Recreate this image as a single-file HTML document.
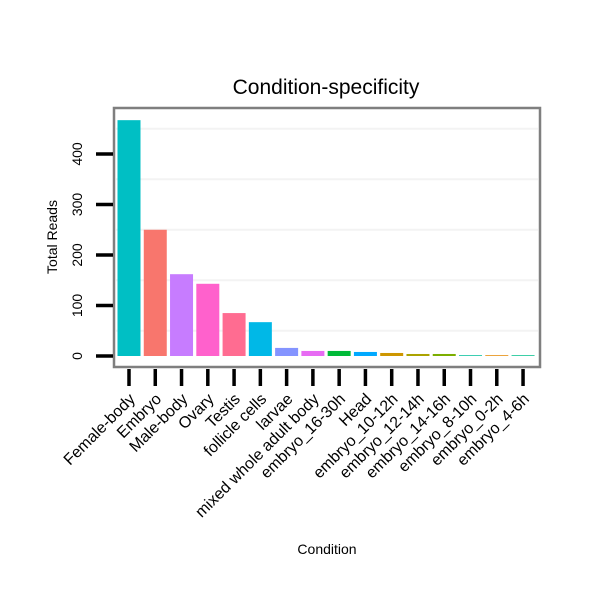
<!DOCTYPE html>
<html><head><meta charset="utf-8"><style>
body{margin:0;background:#fff;font-family:"Liberation Sans",sans-serif}
</style></head><body>
<svg width="600" height="600" xmlns="http://www.w3.org/2000/svg" font-family="Liberation Sans, sans-serif">
<rect width="600" height="600" fill="#fff"/>
<text x="326" y="94" font-size="21" text-anchor="middle">Condition-specificity</text>
<g id="grid"></g>
<g id="bars"></g>
<rect x="114" y="108" width="426" height="259" fill="none" stroke="#7f7f7f" stroke-width="2.5"/>
<g id="yax"></g>
<g id="xax"></g>
<text x="327" y="554" font-size="14" text-anchor="middle">Condition</text>
<text transform="translate(57,237) rotate(-90)" font-size="14" text-anchor="middle">Total Reads</text>
</svg>
<script>
const categories=["Female-body","Embryo","Male-body","Ovary","Testis","follicle cells","larvae","mixed whole adult body","embryo_16-30h","Head","embryo_10-12h","embryo_12-14h","embryo_14-16h","embryo_8-10h","embryo_0-2h","embryo_4-6h"];
const values=[467,250,162,143,85,67,16,10,10,8,6,4,4,1.5,1.5,1.5];
const colors=["#00BFC4","#F8766D","#C77CFF","#FF61CC","#FF6C91","#00B8E7","#8494FF","#E76BF3","#00BA38","#00A9FF","#CD9600","#ABA300","#7CAE00","#00BE9A","#E58700","#00C08B"];
const yTicks=[0,100,200,300,400];
const NS="http://www.w3.org/2000/svg";
const y=v=>356-v*0.505;
const x=i=>129+i*26.27;
function mk(t,a,p){const e=document.createElementNS(NS,t);for(const k in a)e.setAttribute(k,a[k]);p.appendChild(e);return e;}
const grid=document.getElementById('grid'),bars=document.getElementById('bars'),yax=document.getElementById('yax'),xax=document.getElementById('xax');
for(let v=50;v<=450;v+=100){const g=mk('line',{x1:116,x2:538,y1:y(v),y2:y(v),stroke:'#f3f3f3','stroke-width':2},grid);

}
yTicks.forEach(v=>{const t=mk('line',{x1:96,x2:113,y1:y(v),y2:y(v),stroke:'#000','stroke-width':3.5},yax);


const l=mk('text',{transform:`translate(82,${y(v)}) rotate(-90)`,'font-size':14,'text-anchor':'middle'},yax);l.textContent=v;

});
categories.forEach((c,i)=>{const b=mk('rect',{x:x(i)-11.5,y:y(values[i]),width:23,height:356-y(values[i]),fill:colors[i]},bars);


const t=mk('line',{x1:x(i),x2:x(i),y1:369,y2:386,stroke:'#000','stroke-width':3.5},xax);


const l=mk('text',{transform:`translate(${x(i)+7},${400}) rotate(-45)`,'font-size':16,'text-anchor':'end'},xax);l.textContent=c;

});
</script>
</body></html>
